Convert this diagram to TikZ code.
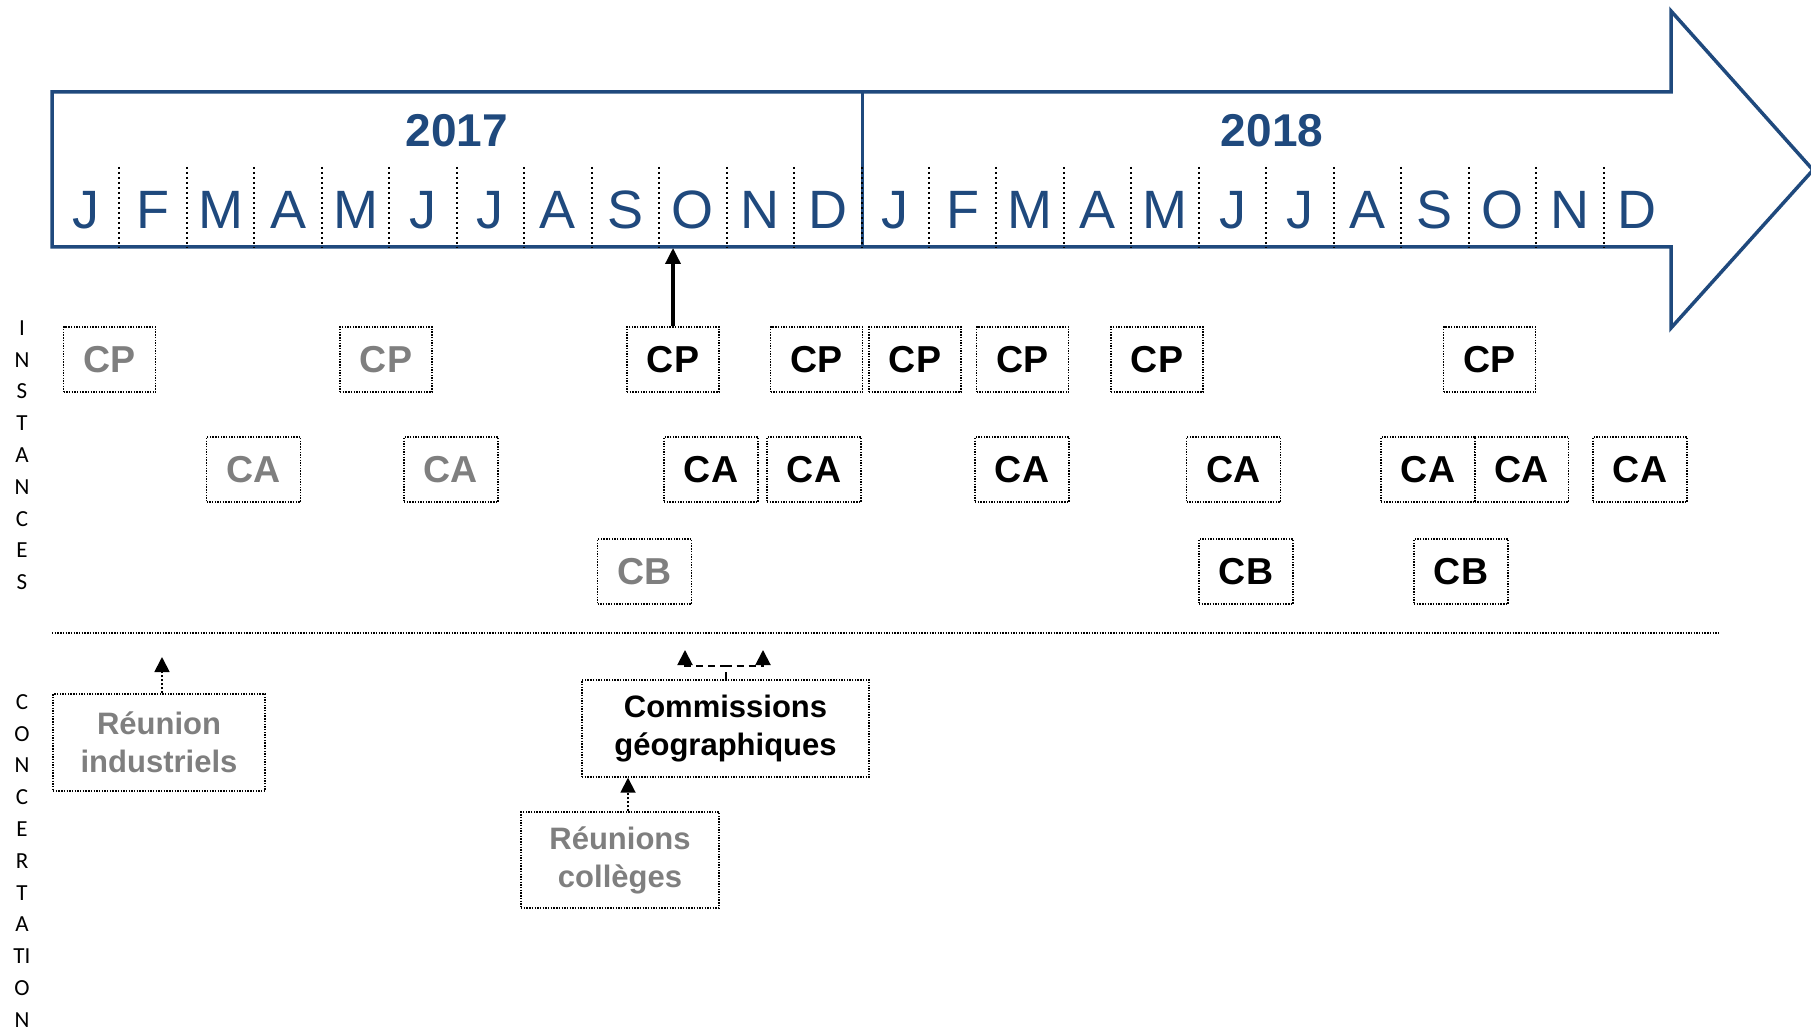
\documentclass[tikz,border=0pt]{standalone}
\usepackage{fontspec}
\setmainfont{Liberation Sans}
\newfontfamily\carl{Carlito}
\usetikzlibrary{arrows.meta}
\definecolor{tlblue}{RGB}{31,73,125}
\definecolor{pastgray}{RGB}{127,127,127}
\begin{document}
\begin{tikzpicture}[x=1pt,y=-1pt,
  boxframe/.style={draw=black, line width=1.4pt, dash pattern=on 1.4pt off 1.3pt, inner sep=0pt, align=center},
  evt/.style={boxframe, minimum height=65pt, font=\fontsize{37.5}{40}\selectfont\bfseries},
  cpbox/.style={evt, minimum width=92pt},
  cabox/.style={evt, minimum width=94pt},
  past/.style={text=pastgray},
  cur/.style={text=black},
  conc/.style={boxframe, font=\fontsize{31}{38}\selectfont\bfseries},
  month/.style={anchor=base, text=tlblue, font=\fontsize{54}{60}\selectfont, inner sep=0pt},
  yearlbl/.style={anchor=base, text=tlblue, font=\fontsize{46}{50}\selectfont\bfseries, inner sep=0pt},
  side/.style={font=\carl\fontsize{23}{26}\selectfont, inner sep=0pt},
  mdiv/.style={black, line width=2pt, dash pattern=on 2pt off 3pt},
  sepline/.style={black, line width=1.4pt, dash pattern=on 1.4pt off 1.3pt},
  dotptr/.style={-{Triangle[length=15pt,width=15pt]}, line width=1.8pt, dash pattern=on 2pt off 2pt},
  dashptr/.style={-{Triangle[length=15pt,width=15pt]}, line width=2pt, dash pattern=on 7pt off 5pt},
  mainptr/.style={-{Triangle[length=16pt,width=15pt]}, line width=3.5pt}
]
\useasboundingbox (0,0) rectangle (1811,1032);

% timeline arrow
\draw[tlblue, line width=3.5pt, line join=miter]
  (52,92) -- (1671,92) -- (1671,11) -- (1813,170) -- (1671,328) -- (1671,247) -- (52,247) -- cycle;
\draw[tlblue, line width=3pt] (862,92) -- (862,247);
\foreach \i in {1,...,23}
  \draw[mdiv] ({52+67.46*\i},167) -- ({52+67.46*\i},248);

\node[yearlbl] (y2017) at (457,147) {2017};
\node[yearlbl] (y2018) at (1272,147) {2018};
\foreach \m [count=\i] in {J,F,M,A,M,J,J,A,S,O,N,D,J,F,M,A,M,J,J,A,S,O,N,D}
  \node[month] (m\i) at ({52+67.46*(\i-0.5)},229) {\m};
\coordinate (tlb) at (673,248);

% side labels
\foreach \l [count=\i] in {I,N,S,T,A,N,C,E,S}
  \node[side] (ins\i) at (22,{328+31.8*(\i-1)}) {\l};
\foreach \l [count=\i] in {C,O,N,C,E,R,T,A,TI,O,N}
  \node[side] (con\i) at (22,{702+31.8*(\i-1)}) {\l};

% CP row
\node[cpbox, past] (cp1) at (109.5,359.5) {CP};
\node[cpbox, past] (cp2) at (386,359.5) {CP};
\node[cpbox, cur] (cp3) at (673,359.5) {CP};
\node[cpbox, cur] (cp4) at (816.5,359.5) {CP};
\node[cpbox, cur] (cp5) at (915,359.5) {CP};
\node[cpbox, cur] (cp6) at (1022.5,359.5) {CP};
\node[cpbox, cur] (cp7) at (1157,359.5) {CP};
\node[cpbox, cur] (cp8) at (1489.5,359.5) {CP};

% CA row
\node[cabox, past] (ca1) at (253.5,469.5) {CA};
\node[cabox, past] (ca2) at (451,469.5) {CA};
\node[cabox, cur] (ca3) at (711,469.5) {CA};
\node[cabox, cur] (ca4) at (814,469.5) {CA};
\node[cabox, cur] (ca5) at (1022,469.5) {CA};
\node[cabox, cur] (ca6) at (1233.5,469.5) {CA};
\node[cabox, cur] (ca7) at (1428,469.5) {CA};
\node[cabox, cur] (ca8) at (1521.5,469.5) {CA};
\node[cabox, cur] (ca9) at (1640,469.5) {CA};

% CB row
\node[cabox, past] (cb1) at (644.5,571.5) {CB};
\node[cabox, cur] (cb2) at (1246,571.5) {CB};
\node[cabox, cur] (cb3) at (1461,571.5) {CB};

\draw[mainptr] (cp3.north) -- (tlb);

% separator
\draw[sepline] (52,633) -- (1719,633);

% concertation
\node[conc, past, minimum width=212pt, minimum height=97pt] (ind) at (159,742.5) {Réunion\\industriels};
\node[conc, cur, minimum width=287pt, minimum height=97pt] (geo) at (725.5,728.5) {Commissions\\géographiques};
\node[conc, past, minimum width=198pt, minimum height=96pt] (col) at (620,860) {Réunions\\collèges};

\coordinate (indtip) at (162,657);
\coordinate (colx) at (628,0);
\coordinate (geoL) at (685,650);
\coordinate (geoR) at (763,650);

\draw[dotptr] (ind.north -| indtip) -- (indtip);
\draw[dotptr] (col.north -| colx) -- (geo.south -| colx);
\draw[dashptr] (geo.north) -- ++(0,-13) -| (geoL);
\draw[dashptr] (geo.north) -- ++(0,-13) -| (geoR);
\end{tikzpicture}
\end{document}
